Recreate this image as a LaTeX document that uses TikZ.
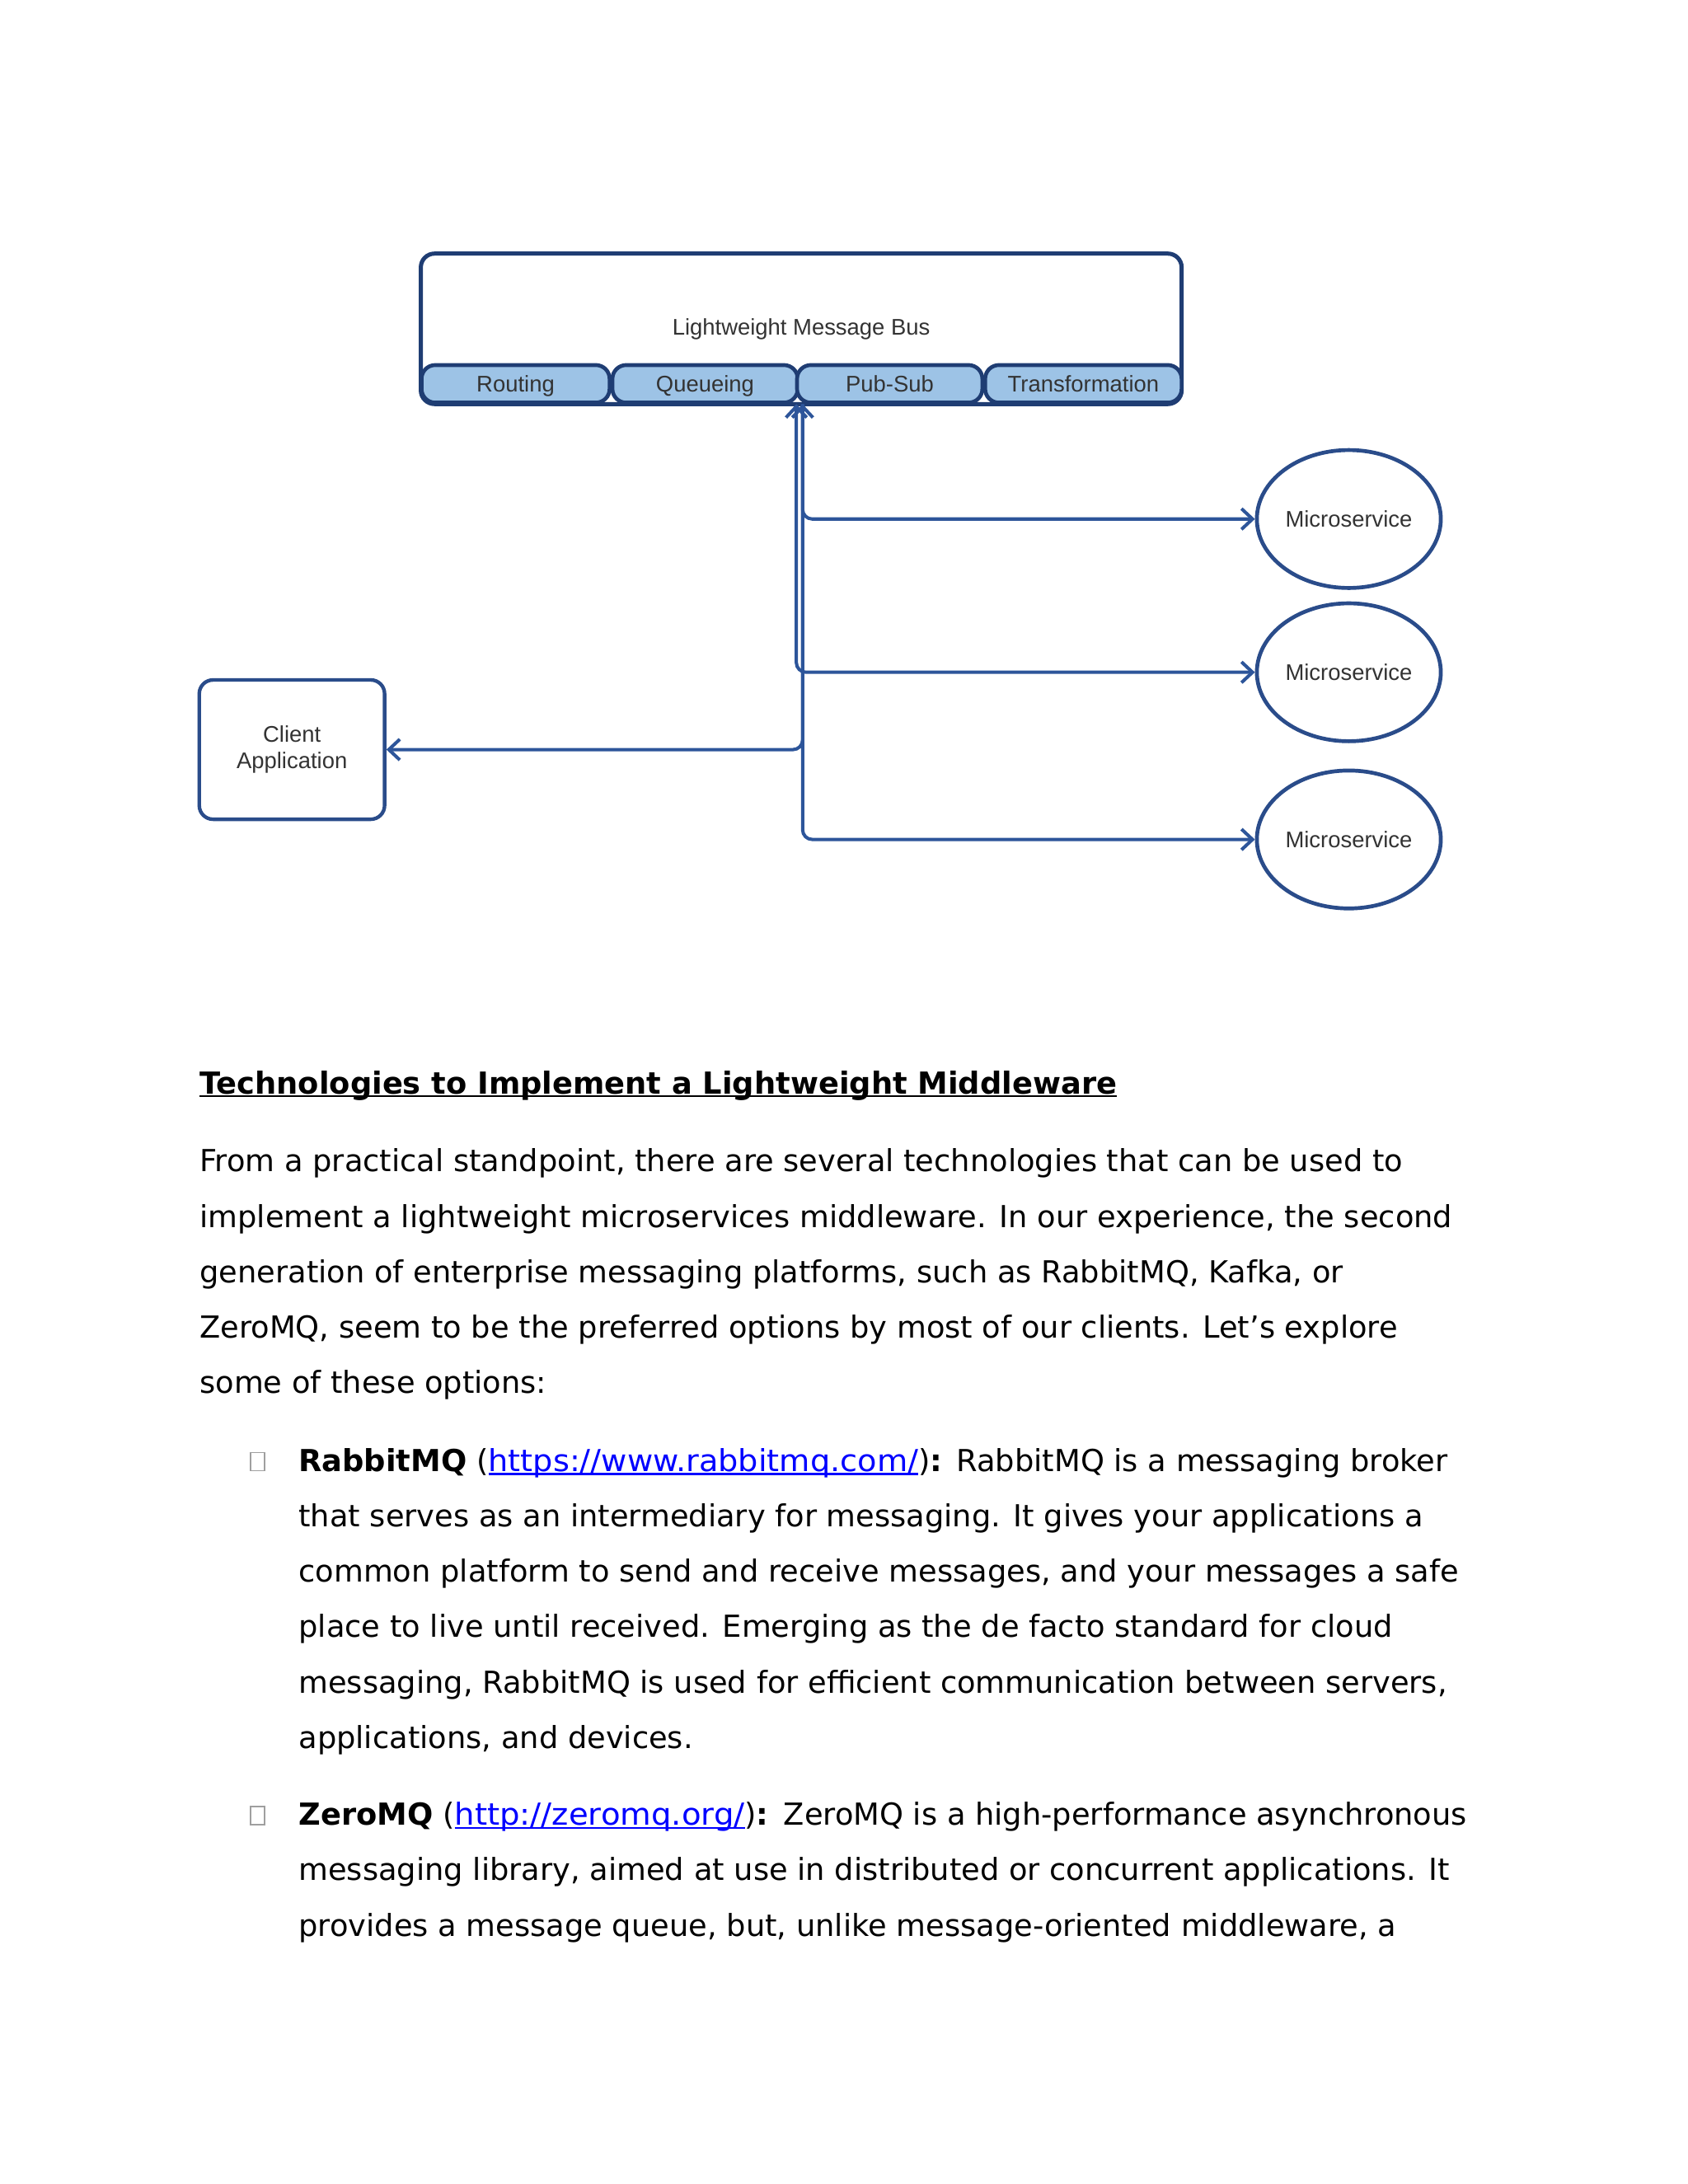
\documentclass[tikz,border=0pt]{standalone}
\usepackage{graphicx}
\usepackage{fontspec}
\setmainfont{DejaVu Sans}
\newfontfamily\diagfont{Liberation Sans}
\usetikzlibrary{arrows.meta,shapes.geometric}
\definecolor{busborder}{HTML}{1F3D73}
\definecolor{subfill}{HTML}{9DC3E6}
\definecolor{connblue}{HTML}{2D559A}
\definecolor{ellborder}{HTML}{2A4C8A}
\definecolor{diagtext}{HTML}{333333}
\definecolor{linkblue}{HTML}{0000FF}
\newlength\ulw
\newcommand\myul[1]{\settowidth\ulw{#1}\rlap{\rule[-1.3pt]{\ulw}{0.75pt}}#1}
\newcommand\mylink[2]{\textcolor{linkblue}{\scalebox{#1}[1]{\myul{#2}}}}
\def\pxu{0.50525pt}
\tikzset{
  diagtxt/.style={font=\diagfont\fontsize{8.2pt}{9.6pt}\selectfont, text=diagtext},
  busbox/.style={draw=busborder, line width=1.5pt, rounded corners=5pt, fill=white, inner sep=0pt, diagtxt},
  subbox/.style={draw=busborder, line width=1.4pt, rounded corners=5pt, fill=subfill, inner sep=0pt, diagtxt, minimum height=27*\pxu, text height=7.2pt, text depth=1.4pt},
  msnode/.style={ellipse, draw=ellborder, line width=1.4pt, fill=white, inner sep=0pt, diagtxt, minimum width=132*\pxu, minimum height=99*\pxu},
  clientbox/.style={draw=ellborder, line width=1.3pt, rounded corners=5pt, fill=white, inner sep=0pt, diagtxt, align=center, minimum width=133*\pxu, minimum height=100*\pxu},
  conn/.style={draw=connblue, line width=1.2pt, rounded corners=3.5pt, arrows={-Straight Barb[length=4pt,width=7.5pt]}},
  bidir/.style={draw=connblue, line width=1.2pt, rounded corners=3.5pt, arrows={Straight Barb[length=4pt,width=7.5pt]-Straight Barb[length=4pt,width=7.5pt]}},
  bodytxt/.style={anchor=base west, inner sep=0pt, font=\fontsize{11pt}{13pt}\selectfont, text=black},
  bulletbox/.style={draw=gray!75, line width=0.5pt, inner sep=0pt, minimum width=10*\pxu, minimum height=13*\pxu}
}
\begin{document}
\begin{tikzpicture}[x=0.50525pt, y=-0.50525pt]
\useasboundingbox (0,0) rectangle (1211.3,1567.5);
\fill[white] (0,0) rectangle (1211.3,1567.5);

% ---------- diagram ----------
\node[busbox, minimum width=546*\pxu, minimum height=108*\pxu] (bus) at (575,236) {Lightweight Message Bus};
\node[subbox, minimum width=135*\pxu] (routing) at (370,275.5) {Routing};
\node[subbox, minimum width=133*\pxu] (queueing) at (506,275.5) {Queueing};
\node[subbox, minimum width=133*\pxu] (pubsub) at (638.5,275.5) {Pub-Sub};
\node[subbox, minimum width=141*\pxu] (transf) at (777.5,275.5) {Transformation};

\node[msnode] (ms1) at (968,372.5) {Microservice};
\node[msnode] (ms2) at (968,482.5) {Microservice};
\node[msnode] (ms3) at (968,602.5) {Microservice};

\node[clientbox] (client) at (209.5,538) {Client\\Application};

\coordinate (busL) at (571.5,290);
\coordinate (busR) at (576,290);

\draw[bidir] (busL) |- (ms2.west);
\draw[bidir] (busR) |- (ms3.west);
\draw[conn] (busR) |- (ms1.west);
\draw[conn] (busR) |- (client.east);

% ---------- text ----------
\node[bodytxt] (head) at (143,785) {\textbf{\myul{Technologies to Implement a Lightweight Middleware}}};

\node[bodytxt] (p1) at (143,841) {From a practical standpoint, there are several technologies that can be used to};
\node[bodytxt] (p2) at (143,880.75) {implement a lightweight microservices middleware. In our experience, the second};
\node[bodytxt] (p3) at (143,920.5) {generation of enterprise messaging platforms, such as RabbitMQ, Kafka, or};
\node[bodytxt] (p4) at (143,960.25) {ZeroMQ, seem to be the preferred options by most of our clients. Let’s explore};
\node[bodytxt] (p5) at (143,1000) {some of these options:};

\node[bulletbox] (bul1) at (185,1049) {};
\node[bodytxt] (r1) at (214,1056) {\textbf{RabbitMQ} (\mylink{1.04}{https://www.rabbitmq.com/})\textbf{:}\kern0.5pt{} RabbitMQ is a messaging broker};
\node[bodytxt] (r2) at (214,1095.75) {that serves as an intermediary for messaging. It gives your applications a};
\node[bodytxt] (r3) at (214,1135.5) {common platform to send and receive messages, and your messages a safe};
\node[bodytxt] (r4) at (214,1175.25) {place to live until received. Emerging as the de facto standard for cloud};
\node[bodytxt] (r5) at (214,1215) {messaging, RabbitMQ is used for efficient communication between servers,};
\node[bodytxt] (r6) at (214,1254.75) {applications, and devices.};

\node[bulletbox] (bul2) at (185,1303) {};
\node[bodytxt] (z1) at (214,1310) {\textbf{ZeroMQ} (\mylink{1.05}{http://zeromq.org/})\textbf{:}\kern0.8pt{} ZeroMQ is a high-performance asynchronous};
\node[bodytxt] (z2) at (214,1349.75) {messaging library, aimed at use in distributed or concurrent applications. It};
\node[bodytxt] (z3) at (214,1389.5) {provides a message queue, but, unlike message-oriented middleware, a};
\end{tikzpicture}
\end{document}
